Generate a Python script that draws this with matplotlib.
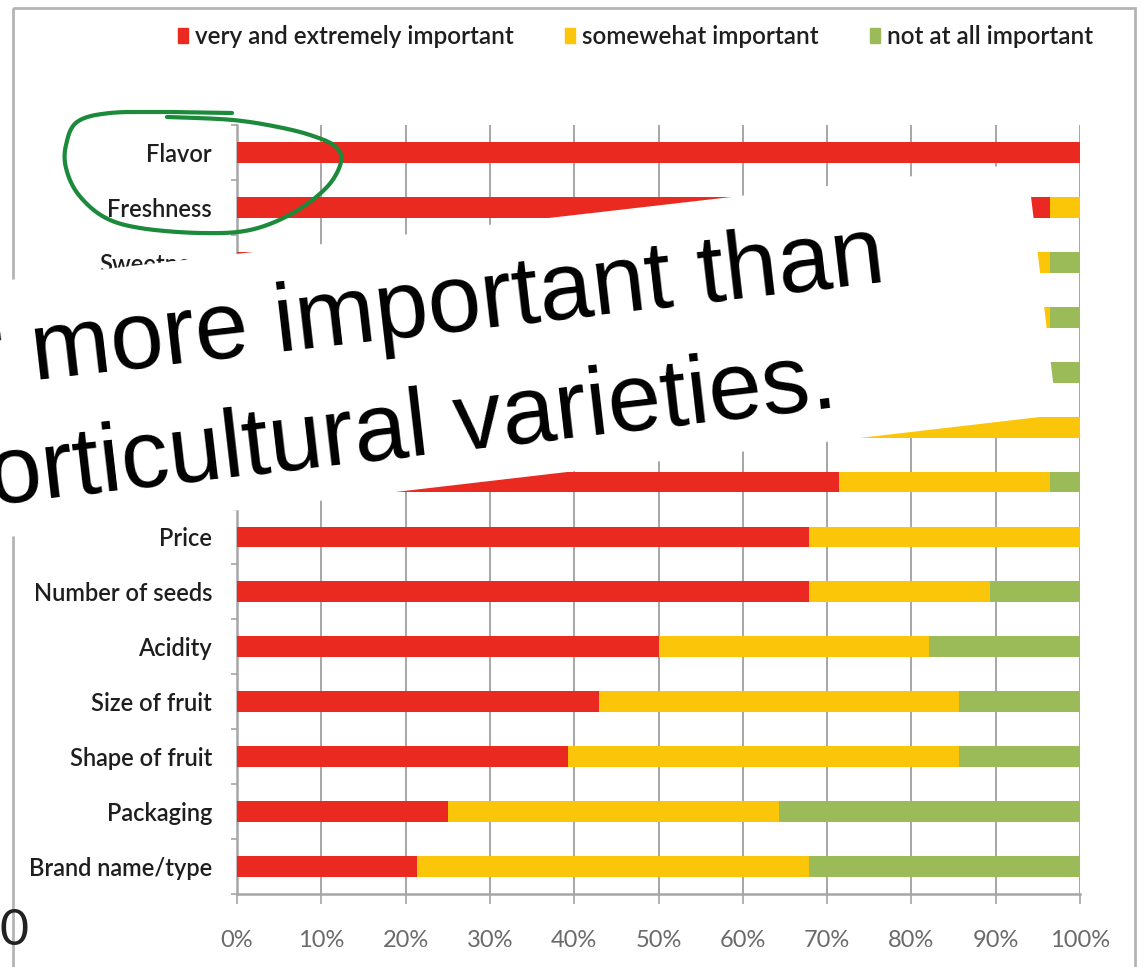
import numpy as np
import matplotlib
matplotlib.use("Agg")
import matplotlib.pyplot as plt
from matplotlib.patches import Polygon, Rectangle, Patch

# attributes, top to bottom
attributes = ["Flavor", "Freshness", "Sweetness", "Juiciness", "Texture",
              "Color", "Ripeness", "Price", "Number of seeds", "Acidity",
              "Size of fruit", "Shape of fruit", "Packaging", "Brand name/type"]

# share of respondents (%)
very_important = [100.0, 96.4, 89.3, 85.7, 78.6, 71.4, 71.4, 67.9, 67.9, 50.0, 42.9, 39.3, 25.0, 21.4]
somewhat_important = [0.0, 3.6, 7.1, 10.7, 17.8, 28.6, 25.0, 32.1, 21.4, 32.1, 42.8, 46.4, 39.3, 46.5]
not_important = [0.0, 0.0, 3.6, 3.6, 3.6, 0.0, 3.6, 0.0, 10.7, 17.9, 14.3, 14.3, 35.7, 32.1]

series_names = ["very and extremely important", "somewehat important", "not at all important"]
series_colors = ["#ea2a20", "#fbc60a", "#9bbb59"]

x_ticks = [0, 10, 20, 30, 40, 50, 60, 70, 80, 90, 100]

NARROW = ["Lato", "DejaVu Sans"]
W, H = 1143, 967

fig = plt.figure(figsize=(W / 100, H / 100), dpi=100)
fig.patch.set_facecolor("white")

ax = fig.add_axes([237 / W, 1 - 894 / H, 843 / W, 769 / H])
ypos = np.arange(len(attributes))
left = np.zeros(len(attributes))
for vals, name, col in zip([very_important, somewhat_important, not_important],
                           series_names, series_colors):
    ax.barh(ypos, vals, left=left, height=0.38, color=col, label=name, zorder=3)
    left = left + np.array(vals)

ax.set_xlim(0, 100)
ax.set_ylim(len(attributes) - 0.5, -0.5)
ax.set_xticks(x_ticks)
ax.set_xticklabels([f"{t}%" for t in x_ticks], family=NARROW, fontsize=17, color="#6a6a6a")
ax.set_yticks(ypos)
ax.set_yticklabels(attributes, family=NARROW, fontsize=17, color="#1e1e1e", weight="semibold")
ax.set_yticks(np.arange(len(attributes) + 1) - 0.5, minor=True)
ax.tick_params(axis="y", which="major", length=0, pad=18)
ax.tick_params(axis="y", which="minor", length=4, width=1.2, color="#a6a6a6", direction="out")
ax.tick_params(axis="x", length=7, width=1.2, color="#a6a6a6", pad=19)
ax.grid(axis="x", color="#a6a6a6", lw=1.4, zorder=1)
ax.grid(axis="y", visible=False)
for s in ["top", "right"]:
    ax.spines[s].set_visible(False)
for s in ["left", "bottom"]:
    ax.spines[s].set_color("#a6a6a6")
    ax.spines[s].set_linewidth(1.8)

handles = [Patch(color=c) for c in series_colors]
fig.legend(handles, series_names, ncol=3, loc="upper right", bbox_to_anchor=(1093 / W, 1 - 25 / H),
           frameon=False, borderpad=0, borderaxespad=0,
           prop={"family": NARROW, "size": 17.5, "weight": "semibold"},
           handlelength=0.4, handleheight=0.6,
           handletextpad=0.3, columnspacing=2.1, labelcolor="#1e1e1e")

# overlay in pixel coordinates: slide frame, pasted text box, pen circle
ov = fig.add_axes([0, 0, 1, 1])
ov.set_xlim(0, W)
ov.set_ylim(H, 0)
ov.axis("off")
ov.set_zorder(10)
ov.patch.set_visible(False)

ov.add_patch(Rectangle((13, 8), 1122, 1100, fill=False, edgecolor="#b4b4b4", lw=2, zorder=1))
ov.text(30, 945, "10", ha="right", va="baseline", family=NARROW, fontsize=36, color="#222222")

ov.add_patch(Polygon([(-60, 288), (1027, 163), (1057, 415), (-60, 545)], closed=True,
                     facecolor="white", edgecolor="none", zorder=2))
ov.text(-103, 396, "far more important than", rotation=6.6, rotation_mode="anchor",
        ha="left", va="baseline", family="Liberation Sans", fontsize=69, color="black", zorder=3)
ov.text(-61, 511, "horticultural varieties.", rotation=6.6, rotation_mode="anchor",
        ha="left", va="baseline", family="Liberation Sans", fontsize=69, color="black", zorder=3)

# hand-drawn loop around Flavor / Freshness
pts = np.array([(232, 113), (170, 112), (110, 113), (77, 122), (66, 145), (66, 168), (78, 194),
                (104, 217), (140, 228), (200, 233), (250, 230), (293, 213), (327, 187),
                (341, 162), (336, 147), (316, 137), (283, 128), (233, 120), (167, 117)], float)


def catmull(p, n=16):
    p = np.vstack([p[0], p, p[-1]])
    out = []
    for i in range(1, len(p) - 2):
        p0, p1, p2, p3 = p[i - 1], p[i], p[i + 1], p[i + 2]
        for t in np.linspace(0, 1, n, endpoint=False):
            out.append(0.5 * ((2 * p1) + (-p0 + p2) * t + (2 * p0 - 5 * p1 + 4 * p2 - p3) * t ** 2
                              + (-p0 + 3 * p1 - 3 * p2 + p3) * t ** 3))
    out.append(p[-2])
    return np.array(out)


loop = catmull(pts)
ov.plot(loop[:, 0], loop[:, 1], color="#1b8a3a", lw=3, solid_capstyle="round", zorder=4)

fig.savefig("out.png", dpi=100)
